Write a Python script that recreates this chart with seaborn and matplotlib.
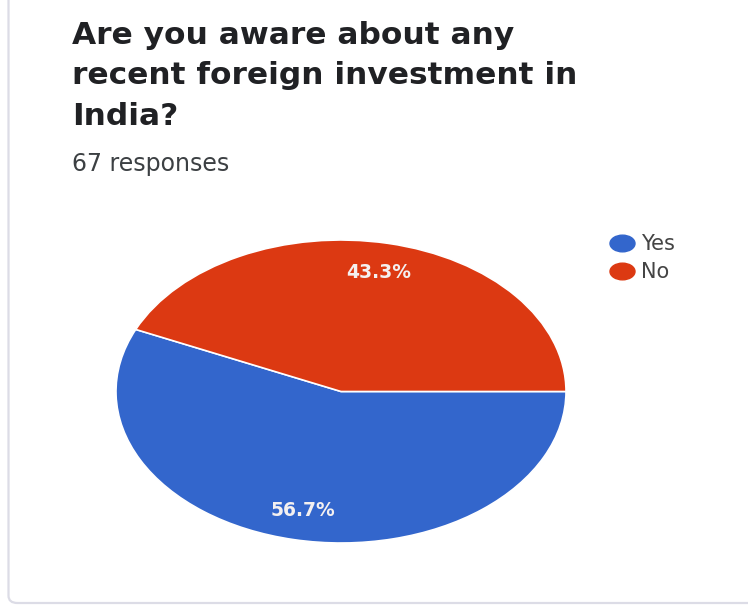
import matplotlib
matplotlib.use("Agg")
import matplotlib.pyplot as plt
import seaborn as sns
from matplotlib.lines import Line2D
from matplotlib.patches import FancyBboxPatch
from matplotlib.path import Path
from matplotlib.transforms import Affine2D

# Survey data
question_lines = ["Are you aware about any", "recent foreign investment in", "India?"]
subtitle = "67 responses"
answers = ["Yes", "No"]
counts = [38, 29]
answer_colors = ["#3366cc", "#dc3912"]

sns.set_theme(style="white")
plt.rcParams["font.family"] = ["DejaVu Sans"]

W, H = 748, 606
fig = plt.figure(figsize=(W / 100, H / 100), dpi=100)
fig.patch.set_facecolor("white")

# card outline (left and bottom edges visible)
card = FancyBboxPatch((8.5 / W, 3.0 / H), 1.2, 1.2,
                      boxstyle="round,pad=0,rounding_size=0.012",
                      transform=fig.transFigure, facecolor="none",
                      edgecolor="#dcdce6", linewidth=1.6, zorder=0)
fig.patches.append(card)

# question title
baselines = [44, 84, 125]
for line, yb in zip(question_lines, baselines):
    fig.text(72 / W, 1 - yb / H, line, ha="left", va="baseline",
             fontsize=22.5, fontweight="bold", color="#202124")
fig.text(72 / W, 1 - 171 / H, subtitle, ha="left", va="baseline",
         fontsize=17, color="#3c4043")

# pie
ax = fig.add_axes([116 / W, 63 / H, 450 / W, 303 / H])
wedges, _, autotexts = ax.pie(
    counts, colors=answer_colors, startangle=0, counterclock=False,
    autopct="%.1f%%", pctdistance=0.8,
    wedgeprops=dict(edgecolor="white", linewidth=1.2),
    textprops=dict(color="#f4f0f0", fontsize=13.5, fontweight="bold"),
)
ax.set_aspect("auto")
ax.set_xlim(-1, 1)
ax.set_ylim(-1, 1)
ax.axis("off")

# legend with oval markers
oval = Path.unit_circle().transformed(Affine2D().scale(1.5, 1.0))
handles = [Line2D([], [], linestyle="none", marker=oval, markersize=18,
                  markerfacecolor=c, markeredgecolor=c) for c in answer_colors]
fig.legend(handles, answers, loc="upper left",
           bbox_to_anchor=(610 / W, 1 - 234 / H), frameon=False,
           fontsize=15, labelcolor="#444444", handlelength=1.15,
           handletextpad=0.35, labelspacing=0.4, borderpad=0,
           borderaxespad=0)

fig.savefig("out.png", dpi=100, facecolor="white")
